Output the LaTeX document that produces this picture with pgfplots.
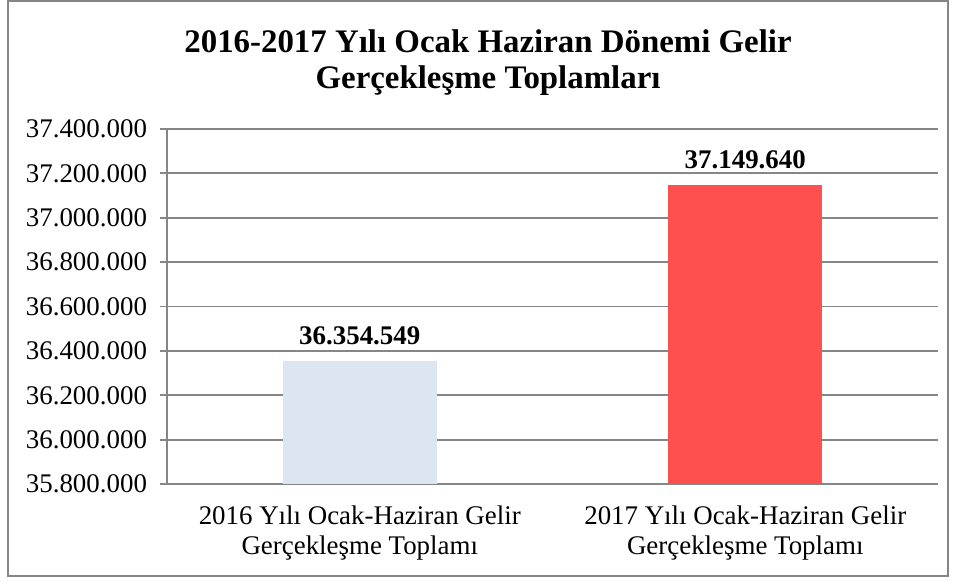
\documentclass[border=0pt]{standalone}
\usepackage{pgfplots}
\usepackage{pgfplotstable}
\pgfplotsset{compat=1.18}
\usepackage{fontspec}
\setmainfont{Liberation Serif}

\definecolor{barblue}{HTML}{DCE6F2}
\definecolor{barred}{HTML}{FF5050}
\definecolor{gridgray}{HTML}{868686}

\pgfplotstableread{
x y label
0 36354549 36.354.549
}\gelirA
\pgfplotstableread{
x y label
1 37149640 37.149.640
}\gelirB

\begin{document}
\begin{tikzpicture}[x=1bp,y=1bp]
% whole picture and the outer frame
\path[use as bounding box] (-83.5,-48.5) rectangle (395,242);
\draw[gridgray, line width=0.9bp] (-79.5,-46) rectangle (390.5,241.5);
\node[font=\fontsize{16.5}{18}\selectfont\bfseries, anchor=base] at (160.5,216) {2016-2017 Yılı Ocak Haziran Dönemi Gelir};
\node[font=\fontsize{16.5}{18}\selectfont\bfseries, anchor=base] at (160.5,198) {Gerçekleşme Toplamları};
\begin{axis}[
    at={(0,0)}, anchor=south west,
    scale only axis, width=385.5bp, height=177.5bp,
    ybar, bar width=0.4, bar shift=0pt,
    xmin=-0.5, xmax=1.5,
    ymin=35800000, ymax=37400000,
    xtick={0,1},
    xticklabels={{2016 Yılı Ocak-Haziran Gelir\\Gerçekleşme Toplamı},
                 {2017 Yılı Ocak-Haziran Gelir\\Gerçekleşme Toplamı}},
    ytick={35800000,36000000,36200000,36400000,36600000,36800000,37000000,37200000,37400000},
    scaled y ticks=false,
    /pgf/number format/fixed,
    /pgf/number format/precision=0,
    /pgf/number format/1000 sep={.},
    /pgf/number format/assume math mode=true,
    axis lines*=left,
    axis line style={gridgray, line width=0.9bp},
    ymajorgrids,
    grid style={gridgray, line width=0.9bp},
    tick align=outside,
    major tick length=3.5bp,
    ytick style={gridgray, line width=0.9bp},
    xtick style={draw=none},
    tick label style={font=\fontsize{13.5}{15}\selectfont},
    xticklabel style={align=center, yshift=-4bp},
    yticklabel style={xshift=-3bp},
    nodes near coords,
    point meta=explicit symbolic,
    nodes near coords style={font=\fontsize{13.5}{15}\selectfont\bfseries, yshift=4.5bp},
]
\addplot[fill=barblue, draw=none] table[x=x, y=y, meta=label] {\gelirA};
\addplot[fill=barred, draw=none] table[x=x, y=y, meta=label] {\gelirB};
\end{axis}
\end{tikzpicture}
\end{document}
